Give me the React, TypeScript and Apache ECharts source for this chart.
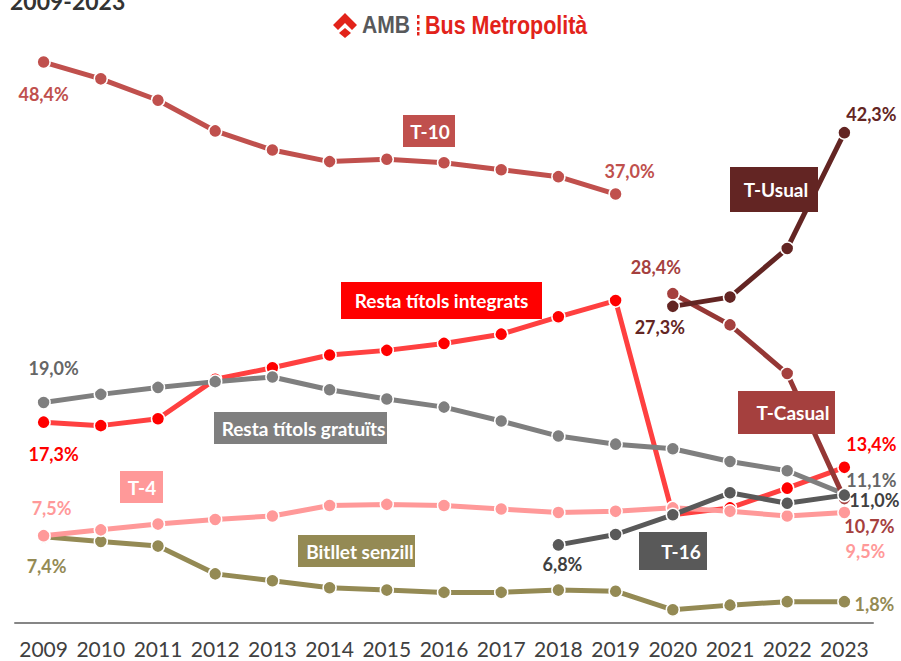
import React, { useEffect, useRef } from "react";
import * as echarts from "echarts";

const years = ["2009","2010","2011","2012","2013","2014","2015","2016","2017","2018","2019","2020","2021","2022","2023"];
const _ = null;
const t10 = [48.4,46.95,45.1,42.45,40.8,39.8,40.0,39.7,39.1,38.5,37.0,_,_,_,_];
const integrats = [17.3,17.0,17.6,21.0,22.0,23.1,23.5,24.1,24.9,26.4,27.8,9.3,9.9,11.6,13.4];
const gratuits = [19.0,19.7,20.3,20.8,21.2,20.1,19.3,18.6,17.4,16.1,15.4,15.0,13.9,13.1,11.1];
const tCasual = [_,_,_,_,_,_,_,_,_,_,_,28.4,25.7,21.5,10.7];
const tUsual = [_,_,_,_,_,_,_,_,_,_,_,27.3,28.1,32.3,42.3];
const bitllet = [7.4,7.0,6.6,4.2,3.6,3.0,2.8,2.6,2.6,2.8,2.7,1.1,1.5,1.8,1.8];
const t4 = [7.5,8.0,8.5,8.9,9.2,10.1,10.2,10.1,9.8,9.5,9.6,9.9,9.6,9.2,9.5];
const t16 = [_,_,_,_,_,_,_,_,_,6.7,7.6,9.3,11.2,10.3,11.0];

const FONT = "Lato, 'Open Sans', sans-serif";
const LOGO_FONT = "'Liberation Sans', sans-serif";

type Lab = { i: number; text: string; off: [number, number] };
const seriesDefs: { name: string; data: (number | null)[]; line: string; mark: string; labelColor: string; labels: Lab[] }[] = [
  { name: "T-10", data: t10, line: "#C0504D", mark: "#C0504D", labelColor: "#C0504D",
    labels: [{ i: 0, text: "48,4%", off: [0, 32] }, { i: 10, text: "37,0%", off: [14, -23] }] },
  { name: "Resta títols integrats", data: integrats, line: "#FF4040", mark: "#FF0000", labelColor: "#FF0000",
    labels: [{ i: 0, text: "17,3%", off: [10, 32] }, { i: 14, text: "13,4%", off: [27, -23] }] },
  { name: "Resta títols gratuïts", data: gratuits, line: "#7F7F7F", mark: "#7F7F7F", labelColor: "#666666",
    labels: [{ i: 0, text: "19,0%", off: [10, -34] }, { i: 14, text: "11,1%", off: [27, -14] }] },
  { name: "T-Casual", data: tCasual, line: "#953735", mark: "#A5403E", labelColor: "#A5403E",
    labels: [{ i: 11, text: "28,4%", off: [-17, -27] }, { i: 14, text: "10,7%", off: [25, 27] }] },
  { name: "T-Usual", data: tUsual, line: "#632523", mark: "#632523", labelColor: "#632523",
    labels: [{ i: 11, text: "27,3%", off: [-13, 21] }, { i: 14, text: "42,3%", off: [27, -19] }] },
  { name: "Bitllet senzill", data: bitllet, line: "#948A54", mark: "#948A54", labelColor: "#948A54",
    labels: [{ i: 0, text: "7,4%", off: [3, 29] }, { i: 14, text: "1,8%", off: [30, 2] }] },
  { name: "T-4", data: t4, line: "#FF9999", mark: "#FF9999", labelColor: "#FF9999",
    labels: [{ i: 0, text: "7,5%", off: [8, -28] }, { i: 14, text: "9,5%", off: [21, 39] }] },
  { name: "T-16", data: t16, line: "#595959", mark: "#595959", labelColor: "#404040",
    labels: [{ i: 9, text: "6,8%", off: [4, 19] }, { i: 14, text: "11,0%", off: [30, 5] }] },
];

const boxes: { text: string; x0: number; y0: number; x1: number; y1: number; tx: number; fill: string }[] = [
  { text: "T-10", x0: 403, y0: 115, x1: 455, y1: 147, tx: 430, fill: "#C0504D" },
  { text: "Resta títols integrats", x0: 341, y0: 282, x1: 542, y1: 319, tx: 441.5, fill: "#FF0000" },
  { text: "Resta títols gratuïts", x0: 214, y0: 412, x1: 387, y1: 444, tx: 303.5, fill: "#7F7F7F" },
  { text: "T-4", x0: 120, y0: 471, x1: 163, y1: 503, tx: 142, fill: "#FF9999" },
  { text: "Bitllet senzill", x0: 298, y0: 535, x1: 415, y1: 567, tx: 360, fill: "#948A54" },
  { text: "T-16", x0: 639, y0: 532, x1: 707, y1: 570, tx: 681, fill: "#595959" },
  { text: "T-Casual", x0: 738, y0: 391, x1: 835, y1: 434, tx: 793, fill: "#A5403E" },
  { text: "T-Usual", x0: 730, y0: 167, x1: 818, y1: 212, tx: 776, fill: "#632523" },
];

export default function App() {
  const ref = useRef<HTMLDivElement>(null);
  useEffect(() => {
    const chart = echarts.init(ref.current!, undefined, { renderer: "svg" });
    const graphic: any[] = [];
    boxes.forEach((b) => {
      graphic.push({ type: "rect", z: 100, shape: { x: b.x0, y: b.y0, width: b.x1 - b.x0, height: b.y1 - b.y0 }, style: { fill: b.fill } });
      graphic.push({ type: "text", z: 101, x: b.tx, y: (b.y0 + b.y1) / 2, style: { text: b.text, fill: "#fff", font: `bold 19px ${FONT}`, textAlign: "center", textVerticalAlign: "middle" } });
    });
    graphic.push({ type: "text", z: 101, x: 10, y: 1, style: { text: "2009-2023", fill: "#333", font: `bold 23px ${FONT}`, textAlign: "left", textVerticalAlign: "middle" } });
    graphic.push({ type: "polygon", z: 101, shape: { points: [[345,13],[357,25],[352,30],[345,23],[338,30],[333,25]] }, style: { fill: "#E2231A" } });
    graphic.push({ type: "polygon", z: 101, shape: { points: [[345,28],[351,33],[345,38],[339,33]] }, style: { fill: "#E2231A" } });
    graphic.push({ type: "text", z: 101, x: 362, y: 25, scaleX: 0.88, style: { text: "AMB", fill: "#58595B", font: `bold 24px ${LOGO_FONT}`, textAlign: "left", textVerticalAlign: "middle" } });
    [15, 21, 27, 32].forEach((y) => {
      graphic.push({ type: "rect", z: 101, shape: { x: 417, y, width: 2.5, height: 3.5 }, style: { fill: "#E2231A" } });
    });
    graphic.push({ type: "text", z: 101, x: 425, y: 25, scaleX: 0.86, style: { text: "Bus Metropolità", fill: "#E2231A", font: `bold 25px ${LOGO_FONT}`, textAlign: "left", textVerticalAlign: "middle" } });

    chart.setOption({
      animation: false,
      backgroundColor: "#fff",
      grid: { left: 15, right: 28, top: 43.5, height: 579, containLabel: false },
      xAxis: {
        type: "category",
        data: years,
        boundaryGap: true,
        axisTick: { show: false },
        axisLine: { lineStyle: { color: "#868686", width: 2 } },
        axisLabel: { color: "#404040", fontFamily: FONT, fontSize: 21, margin: 15, interval: 0, hideOverlap: false },
      },
      yAxis: { type: "value", min: 0, max: 50, show: false, splitLine: { show: false } },
      graphic,
      series: seriesDefs.map((s, idx) => ({
        type: "line",
        name: s.name,
        z: 2 + idx,
        showAllSymbol: true,
        symbol: "circle",
        symbolSize: 13,
        connectNulls: false,
        lineStyle: { color: s.line, width: 5 },
        itemStyle: { color: s.mark, borderColor: "#fff", borderWidth: 1.5 },
        data: s.data.map((v, i) => {
          const l = s.labels.find((x) => x.i === i);
          return l
            ? { value: v, label: { show: true, position: "inside", offset: l.off, formatter: l.text, color: s.labelColor, fontFamily: FONT, fontSize: 18, fontWeight: "bold", align: "center", verticalAlign: "middle" } }
            : { value: v };
        }),
      })),
    });
    return () => chart.dispose();
  }, []);
  return <div ref={ref} style={{ position: "absolute", left: 0, top: 0, width: 901, height: 661 }} />;
}
